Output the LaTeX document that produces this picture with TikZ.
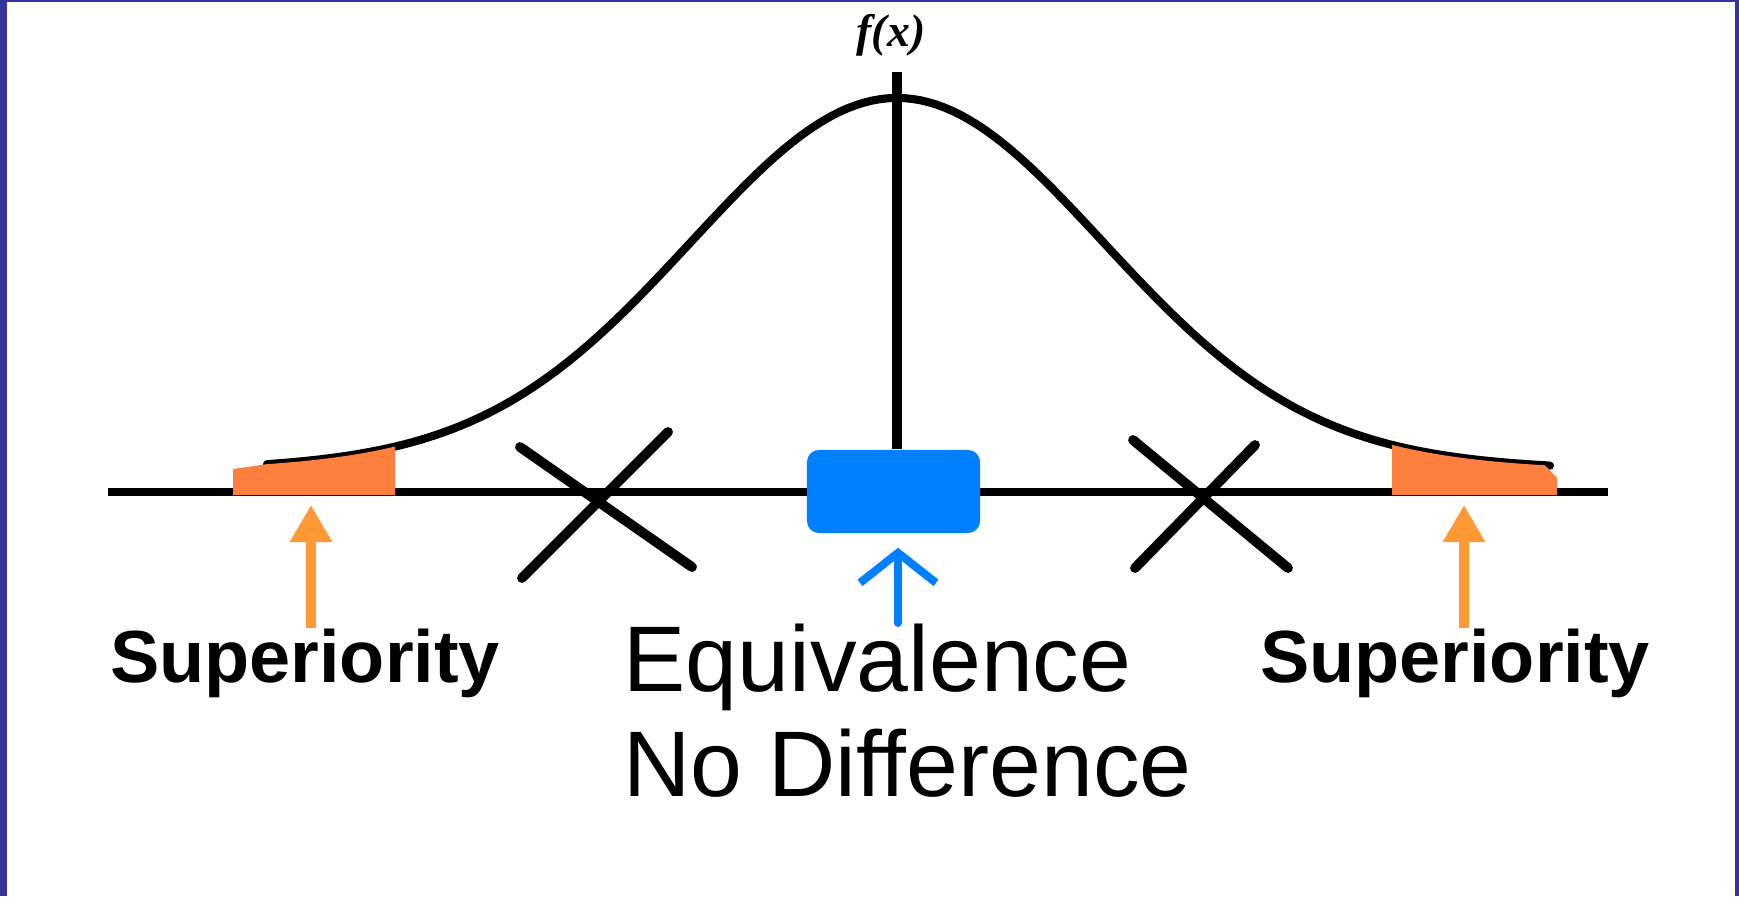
\documentclass[tikz,border=0pt]{standalone}
\usepackage{fontspec}
\setmainfont{Liberation Sans}
\newfontfamily\fxfont{Liberation Serif}
\usepackage{xcolor}
\usetikzlibrary{arrows.meta,positioning}

\definecolor{frameblue}{HTML}{333399}
\definecolor{tailorange}{HTML}{FF7F3F}
\definecolor{arroworange}{HTML}{FF9933}
\definecolor{eqblue}{HTML}{0080FF}

\begin{document}
\begin{tikzpicture}[
x=0.01cm, y=-0.01cm,
declare function={bell(\t)=480-360*exp(-(((\t-897)/100)^2)/8.405)-22*exp(-(((\t-897)/100)^2)/72);},
axisline/.style={line width=2pt},
bellcurve/.style={line width=2.3pt, line cap=round},
cross/.style={line width=2.8pt, line cap=round},
tail/.style={fill=tailorange},
suparrow/.style={-{Triangle[length=0.37cm,width=0.40cm]}, draw=arroworange, fill=arroworange, line width=0.1cm},
eqarrow/.style={-{Straight Barb[length=0.3cm,width=0.76cm]}, draw=eqblue, line width=0.08cm, line cap=round},
fxlabel/.style={font=\fxfont\bfseries\itshape\fontsize{13}{15}\selectfont, inner sep=0pt},
suplabel/.style={font=\bfseries\fontsize{21}{25}\selectfont, inner sep=0pt},
eqlabel/.style={font=\fontsize{26.5}{31}\selectfont, inner sep=0pt}
]

% Frame
\fill[frameblue] (0,0) rectangle (1739,896);
\fill[white] (7,2) rectangle (1735,896);

% Axes
\coordinate (axL) at (108,492);
\coordinate (axR) at (1608,492);
\coordinate (ytop) at (897,72);
\draw[axisline] (axL) -- (axR);
\node[fxlabel] (fx) at (891,35) {f(x)};

% Bell curve
\draw[bellcurve] plot[domain=267:1550, samples=160] (\x, {bell(\x)});

% Tails
\fill[tail] (233,495) -- (233,469) -- plot[domain=267:395, samples=30] (\x, {bell(\x)}) -- (395,495) -- cycle;
\fill[tail] (1392,495) -- plot[domain=1392:1545, samples=30] (\x, {bell(\x)}) -- (1557,478) -- (1557,495) -- cycle;

% Centre box
\node[fill=eqblue, rounded corners=0.12cm, minimum width=1.73cm, minimum height=0.83cm, inner sep=0pt] (eqbox) at (893.5,491.5) {};
\draw[axisline, line width=2.6pt] (ytop) -- (ytop |- eqbox.north);

% Crosses
\draw[cross] (520,447) -- (692,567);
\draw[cross] (522,578) -- (668,432);
\draw[cross] (1133,440) -- (1288,568);
\draw[cross] (1135,568) -- (1255,445);

% Labels
\node[suplabel, anchor=base] (supL) at (305,682) {Superiority};
\node[suplabel, anchor=base] (supR) at (1455,682) {Superiority};
\node[eqlabel, anchor=base west] (equiv) at (623,691) {Equivalence};
\node[eqlabel, anchor=base west] (nodiff) at (623,796) {No Difference};

% Arrows
\coordinate (tailL) at (311,505);
\coordinate (tailR) at (1464,505);
\coordinate (eqfoot) at (898,623);
\draw[suparrow] (tailL |- supL.north) -- (tailL);
\draw[suparrow] (tailR |- supR.north) -- (tailR);
\draw[eqarrow] (eqfoot) -- ([yshift=-0.14cm]eqbox.south -| eqfoot);

\end{tikzpicture}
\end{document}
